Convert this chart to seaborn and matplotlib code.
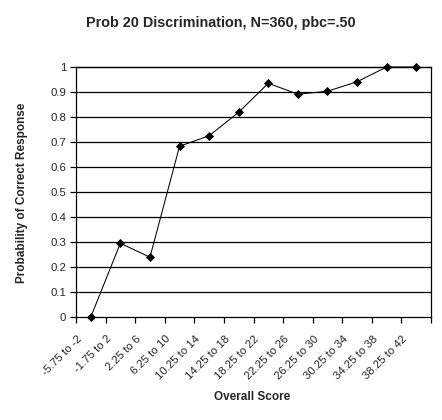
import matplotlib
matplotlib.use("Agg")
import matplotlib.pyplot as plt
import matplotlib.transforms as mtransforms
import numpy as np
import pandas as pd
import seaborn as sns

# data
bins = ["-5.75 to -2", "-1.75 to 2", "2.25 to 6", "6.25 to 10", "10.25 to 14",
        "14.25 to 18", "18.25 to 22", "22.25 to 26", "26.25 to 30",
        "30.25 to 34", "34.25 to 38", "38.25 to 42"]
prob_correct = [0.0, 0.295, 0.239, 0.683, 0.725, 0.819, 0.935, 0.891,
                0.903, 0.941, 1.0, 1.0]
y_ticks = [0, 0.1, 0.2, 0.3, 0.4, 0.5, 0.6, 0.7, 0.8, 0.9, 1]
y_tick_labels = ["0", "0.1", "0.2", "0.3", "0.4", "0.5", "0.6", "0.7",
                 "0.8", "0.9", "1"]

df = pd.DataFrame({"score": bins, "p": prob_correct})

sns.set_style("white")
plt.rcParams["font.family"] = ["Liberation Sans", "DejaVu Sans"]

fig = plt.figure(figsize=(4.42, 4.2), dpi=100)
ax = fig.add_axes([76 / 442, 1 - 317 / 420, 355 / 442, 250 / 420])

# horizontal gridlines like excel
for v in y_ticks[1:]:
    ax.axhline(v, color="black", linewidth=0.9, zorder=1)

sns.pointplot(data=df, x="score", y="p", ax=ax, color="black",
              marker="D", markersize=4.5, linewidth=0.75, errorbar=None)
for coll in ax.collections + ax.lines:
    coll.set_clip_on(False)

ax.set_xlim(-0.5, len(bins) - 0.5)
ax.set_ylim(0, 1)
ax.set_xlabel("")
ax.set_ylabel("")

# ticks between categories, labels at category centres
ax.set_xticks(np.arange(len(bins) + 1) - 0.5)
ax.set_xticklabels([])
ax.set_xticks(np.arange(len(bins)), minor=True)
ax.set_xticklabels(bins, minor=True, rotation=45, ha="right", va="top",
                   fontsize=8.2)
ax.tick_params(axis="x", which="major", length=4, width=0.9, color="black",
               direction="out", bottom=True)
ax.tick_params(axis="x", which="minor", length=0, pad=12)
offset = mtransforms.ScaledTranslation(-7 / 100, 0, fig.dpi_scale_trans)
for lab in ax.get_xticklabels(minor=True):
    lab.set_transform(lab.get_transform() + offset)

ax.set_yticks(y_ticks)
ax.set_yticklabels(y_tick_labels, fontsize=8.2)
ax.tick_params(axis="y", length=4, width=0.9, color="black",
               direction="out", left=True, pad=3)

for s in ax.spines.values():
    s.set_visible(True)
    s.set_color("black")
    s.set_linewidth(0.9)

fig.text(221 / 442, 1 - 23 / 420, "Prob 20 Discrimination, N=360, pbc=.50",
         ha="center", va="center", fontsize=10.4, fontweight="bold")
fig.text(22 / 442, 1 - 193 / 420, "Probability of Correct Response",
         rotation=90, ha="center", va="center", fontsize=8.5,
         fontweight="bold")
fig.text(252 / 442, 1 - 397 / 420, "Overall Score", ha="center",
         va="center", fontsize=8.5, fontweight="bold")

fig.savefig("out.png", dpi=100, facecolor="white")
